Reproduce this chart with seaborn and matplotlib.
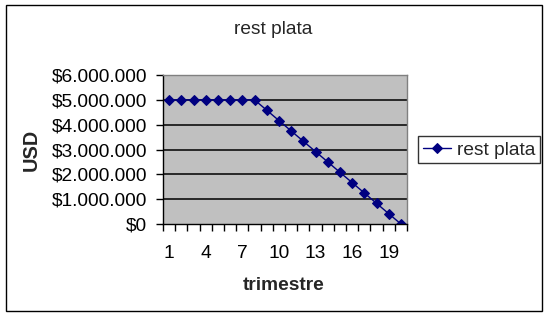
import matplotlib
matplotlib.use("Agg")
import matplotlib.pyplot as plt
import matplotlib.patches as mpatches
from matplotlib.ticker import FixedLocator, FuncFormatter
import seaborn as sns
import pandas as pd

trimestre = list(range(1, 21))
rest_plata = [5000000, 5000000, 5000000, 5000000, 5000000, 5000000, 5000000, 5000000,
              4583333, 4166667, 3750000, 3333333, 2916667, 2500000, 2083333, 1666667,
              1250000, 833333, 416667, 0]
y_ticks = [0, 1000000, 2000000, 3000000, 4000000, 5000000, 6000000]
x_tick_labels = [1, 4, 7, 10, 13, 16, 19]

sns.set_theme(style="white")
plt.rcParams['font.family'] = ['Liberation Sans', 'DejaVu Sans']

df = pd.DataFrame({"trimestre": trimestre, "rest plata": rest_plata})

FS = 13.8
W, H = 549, 317
fig = plt.figure(figsize=(W / 100, H / 100), dpi=100)
fig.patch.set_facecolor("white")

ax = fig.add_axes([163 / W, 1 - 224 / H, (407 - 163) / W, (224 - 75) / H])
ax.set_facecolor("#c0c0c0")

sns.lineplot(data=df, x="trimestre", y="rest plata", ax=ax, color="#000080",
             marker="D", markersize=5, markeredgecolor="#000080", linewidth=1,
             label="rest plata", legend=False)

ax.set_xlim(0.5, 20.5)
ax.set_ylim(0, 6000000)
ax.yaxis.set_major_locator(FixedLocator(y_ticks))
ax.yaxis.set_major_formatter(FuncFormatter(lambda v, p: "$" + f"{int(v):,}".replace(",", ".")))
ax.xaxis.set_major_locator(FixedLocator(x_tick_labels))
ax.xaxis.set_minor_locator(FixedLocator([i + 0.5 for i in range(0, 21)]))
ax.tick_params(axis="x", which="major", length=0, pad=15, labelsize=FS, colors="black")
ax.tick_params(axis="x", which="minor", length=5, width=1, color="black", direction="out", bottom=True)
ax.tick_params(axis="y", which="major", length=5, width=1, color="black", direction="out",
               left=True, pad=6.5, labelsize=FS, labelcolor="black")

for v in y_ticks[1:-1]:
    ax.axhline(v, color="black", linewidth=1.1, zorder=1)

for side in ["top", "right"]:
    ax.spines[side].set_color("#808080")
    ax.spines[side].set_linewidth(1)
for side in ["left", "bottom"]:
    ax.spines[side].set_color("black")
    ax.spines[side].set_linewidth(1)

ax.set_xlabel("trimestre", fontsize=FS, fontweight="bold")
ax.set_ylabel("USD", fontsize=FS + 0.5, fontweight="bold", va="center")
ax.yaxis.set_label_coords(-(163 - 31) / (407 - 163), 0.5)
ax.xaxis.set_label_coords((284 - 163) / (407 - 163), -(285 - 224) / (224 - 75))
ax.xaxis.label.set_va("center")

fig.text(273 / W, 1 - 29 / H, "rest plata", ha="center", va="center", fontsize=FS)

handles, labels = ax.get_legend_handles_labels()
leg = fig.legend(handles, labels, loc="center", bbox_to_anchor=(479 / W, 1 - 150 / H),
                 frameon=True, fancybox=False, fontsize=FS, handlelength=1.5,
                 handletextpad=0.3, borderpad=0.25, borderaxespad=0)
leg.get_frame().set_edgecolor("black")
leg.get_frame().set_linewidth(1)

fig.patches.append(mpatches.Rectangle((6 / W, 1 - 311 / H), (542 - 6) / W, (311 - 5) / H,
                                      transform=fig.transFigure, fill=False,
                                      edgecolor="black", linewidth=1))

fig.savefig("out.png", dpi=100, facecolor="white")
